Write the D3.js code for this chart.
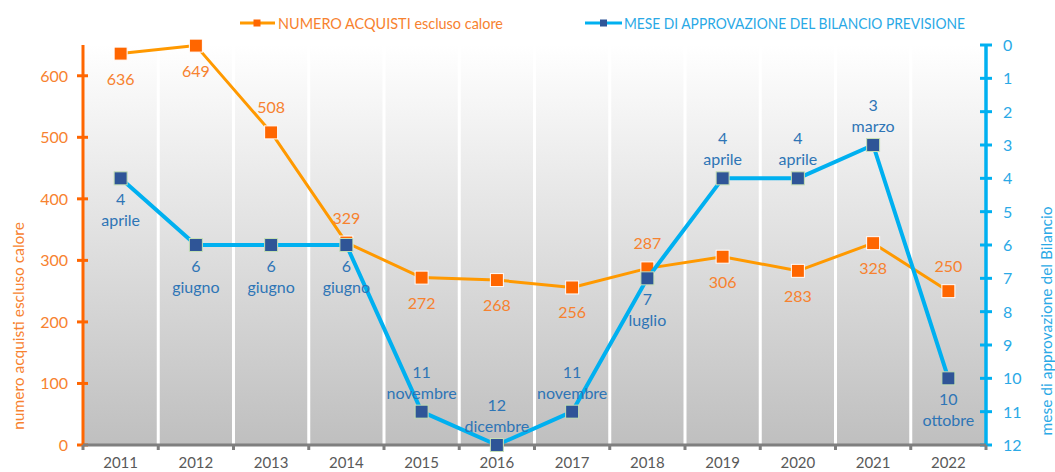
<!DOCTYPE html>
<html>
<head>
<meta charset="utf-8">
<script src="https://cdn.jsdelivr.net/npm/d3@7"></script>
<style>
  html, body { margin: 0; padding: 0; background: #ffffff; }
  svg { display: block; font-family: Lato, "Open Sans", sans-serif; }
</style>
</head>
<body>
<svg id="chart" width="1055" height="472"></svg>
<script>
// Anni di riferimento
const anni = ["2011","2012","2013","2014","2015","2016","2017","2018","2019","2020","2021","2022"];
// Numero acquisti escluso calore
const acquisti = [636, 649, 508, 329, 272, 268, 256, 287, 306, 283, 328, 250];
// Mese di approvazione del bilancio di previsione (1 = gennaio ... 12 = dicembre)
const mese = [4, 6, 6, 6, 11, 12, 11, 7, 4, 4, 3, 10];
const nomiMese = ["aprile","giugno","giugno","giugno","novembre","dicembre","novembre","luglio","aprile","aprile","marzo","ottobre"];
// Posizione delle etichette rispetto al punto
const posAcquisti = ["below","below","above","above","below","below","below","above","below","below","below","above"];
const posMese = ["below","below","below","below","above","above","above","below","above","above","above","below"];
// Tacche degli assi
const tickSx = [0, 100, 200, 300, 400, 500, 600];
const tickDx = d3.range(0, 13);

const svg = d3.select("#chart");
const mLeft = 83, mRight = 986, mTop = 45, mBottom = 445;

const x = d3.scaleBand().domain(anni).range([mLeft, mRight]).padding(0);
const ySx = d3.scaleLinear().domain([0, 650]).range([mBottom, mTop]);
const yDx = d3.scaleLinear().domain([0, 12]).range([mTop, mBottom]);

const C_ORANGE_AXIS = "#ff6600";
const C_ORANGE_LINE = "#ff9900";
const C_ORANGE_TEXT = "#f7822f";
const C_BLUE_LINE = "#00b0f0";
const C_BLUE_TEXT = "#2aa9e6";
const C_BLUE_LABEL = "#2e75b6";
const C_BLUE_MARK = "#2f5597";

// Sfondo area del grafico con sfumatura
const defs = svg.append("defs");
const grad = defs.append("linearGradient").attr("id", "bg").attr("x1", 0).attr("y1", 0).attr("x2", 0).attr("y2", 1);
grad.append("stop").attr("offset", "0%").attr("stop-color", "#ffffff");
grad.append("stop").attr("offset", "100%").attr("stop-color", "#bfbfbf");
svg.append("rect").attr("x", mLeft).attr("y", mTop).attr("width", mRight - mLeft).attr("height", mBottom - mTop).attr("fill", "url(#bg)");

// Griglia verticale bianca ai confini delle categorie
const confini = anni.map(a => x(a)).concat([mRight]);
svg.append("g").selectAll("line").data(confini.slice(1, -1)).join("line")
  .attr("x1", d => d).attr("x2", d => d).attr("y1", mTop).attr("y2", mBottom)
  .attr("stroke", "#ffffff").attr("stroke-width", 3);

// Asse sinistro
const gSx = svg.append("g");
gSx.append("line").attr("x1", mLeft).attr("x2", mLeft).attr("y1", mTop).attr("y2", mBottom)
  .attr("stroke", C_ORANGE_AXIS).attr("stroke-width", 3);
gSx.selectAll("line.t").data(tickSx).join("line").attr("class", "t")
  .attr("x1", mLeft - 6).attr("x2", mLeft + 5).attr("y1", d => ySx(d)).attr("y2", d => ySx(d))
  .attr("stroke", C_ORANGE_AXIS).attr("stroke-width", 3);
gSx.selectAll("text").data(tickSx).join("text")
  .attr("x", mLeft - 15).attr("y", d => ySx(d) + 6).attr("text-anchor", "end")
  .attr("font-size", 16).attr("fill", C_ORANGE_TEXT).text(d => d);
svg.append("text").attr("transform", "translate(24,326) rotate(-90)").attr("text-anchor", "middle")
  .attr("font-size", 15.5).attr("fill", C_ORANGE_TEXT).text("numero acquisti escluso calore");

// Asse destro (invertito)
const gDx = svg.append("g");
gDx.append("line").attr("x1", mRight).attr("x2", mRight).attr("y1", mTop).attr("y2", mBottom)
  .attr("stroke", C_BLUE_LINE).attr("stroke-width", 3.5);
gDx.selectAll("line.t").data(tickDx).join("line").attr("class", "t")
  .attr("x1", mRight - 6).attr("x2", mRight + 6).attr("y1", d => yDx(d)).attr("y2", d => yDx(d))
  .attr("stroke", C_BLUE_LINE).attr("stroke-width", 3);
gDx.selectAll("text").data(tickDx).join("text")
  .attr("x", mRight + 17).attr("y", d => yDx(d) + 6).attr("text-anchor", "start")
  .attr("font-size", 16).attr("fill", C_BLUE_TEXT).text(d => d);
svg.append("text").attr("transform", "translate(1052,321) rotate(-90)").attr("text-anchor", "middle")
  .attr("font-size", 15.5).attr("fill", C_BLUE_TEXT).text("mese di approvazione del Bilancio");

// Asse orizzontale
const gX = svg.append("g");
gX.append("line").attr("x1", mLeft).attr("x2", mRight).attr("y1", mBottom).attr("y2", mBottom)
  .attr("stroke", "#7f7f7f").attr("stroke-width", 3);
gX.selectAll("line.t").data(confini).join("line").attr("class", "t")
  .attr("x1", d => d).attr("x2", d => d).attr("y1", mBottom).attr("y2", mBottom + 5)
  .attr("stroke", "#7f7f7f").attr("stroke-width", 3);
gX.selectAll("text").data(anni).join("text")
  .attr("x", d => x(d) + x.bandwidth() / 2).attr("y", 467.5).attr("text-anchor", "middle")
  .attr("font-size", 15).attr("fill", "#595959").text(d => d);

const cx = i => x(anni[i]) + x.bandwidth() / 2;

// Serie arancione: numero acquisti
const lineaSx = d3.line().x((d, i) => cx(i)).y(d => ySx(d));
svg.append("path").datum(acquisti).attr("d", lineaSx).attr("fill", "none")
  .attr("stroke", C_ORANGE_LINE).attr("stroke-width", 3).attr("stroke-linejoin", "round");
svg.append("g").selectAll("rect").data(acquisti).join("rect")
  .attr("x", (d, i) => cx(i) - 6.5).attr("y", d => ySx(d) - 6.5).attr("width", 13).attr("height", 13)
  .attr("fill", C_ORANGE_AXIS).attr("stroke", "#ffffff").attr("stroke-width", 1);
svg.append("g").selectAll("text").data(acquisti).join("text")
  .attr("x", (d, i) => cx(i))
  .attr("y", (d, i) => ySx(d) + (posAcquisti[i] === "below" ? 25 : -25) + 6)
  .attr("text-anchor", "middle").attr("font-size", 16).attr("fill", C_ORANGE_TEXT).text(d => d);

// Serie blu: mese di approvazione
const lineaDx = d3.line().x((d, i) => cx(i)).y(d => yDx(d));
svg.append("path").datum(mese).attr("d", lineaDx).attr("fill", "none")
  .attr("stroke", C_BLUE_LINE).attr("stroke-width", 4).attr("stroke-linejoin", "round");
svg.append("g").selectAll("rect").data(mese).join("rect")
  .attr("x", (d, i) => cx(i) - 6.5).attr("y", d => yDx(d) - 6.5).attr("width", 13).attr("height", 13)
  .attr("fill", C_BLUE_MARK).attr("stroke", "#c5e0b4").attr("stroke-width", 1);
const etichette = svg.append("g").selectAll("text").data(mese).join("text")
  .attr("text-anchor", "middle").attr("font-size", 16).attr("fill", C_BLUE_LABEL)
  .attr("transform", (d, i) => {
    const off = posMese[i] === "below" ? 21 : -40;
    return `translate(${cx(i)},${yDx(d) + off + 6})`;
  });
etichette.append("tspan").attr("x", 0).attr("y", 0).text(d => d);
etichette.append("tspan").attr("x", 0).attr("y", 21).text((d, i) => nomiMese[i]);

// Legenda
const leg = svg.append("g");
leg.append("line").attr("x1", 240).attr("x2", 275).attr("y1", 23).attr("y2", 23)
  .attr("stroke", C_ORANGE_LINE).attr("stroke-width", 3);
leg.append("rect").attr("x", 253.5).attr("y", 19.5).attr("width", 7).attr("height", 7).attr("fill", C_ORANGE_AXIS);
leg.append("text").attr("x", 278).attr("y", 28.5).attr("font-size", 15).attr("fill", C_ORANGE_TEXT)
  .attr("textLength", 225).attr("lengthAdjust", "spacingAndGlyphs")
  .text("NUMERO ACQUISTI escluso calore");
leg.append("line").attr("x1", 585).attr("x2", 622).attr("y1", 23).attr("y2", 23)
  .attr("stroke", C_BLUE_LINE).attr("stroke-width", 3);
leg.append("rect").attr("x", 600).attr("y", 19.5).attr("width", 7).attr("height", 7).attr("fill", C_BLUE_MARK);
leg.append("text").attr("x", 624).attr("y", 28.5).attr("font-size", 15).attr("fill", C_BLUE_TEXT)
  .attr("textLength", 341).attr("lengthAdjust", "spacingAndGlyphs")
  .text("MESE DI APPROVAZIONE DEL BILANCIO PREVISIONE");
</script>
</body>
</html>
